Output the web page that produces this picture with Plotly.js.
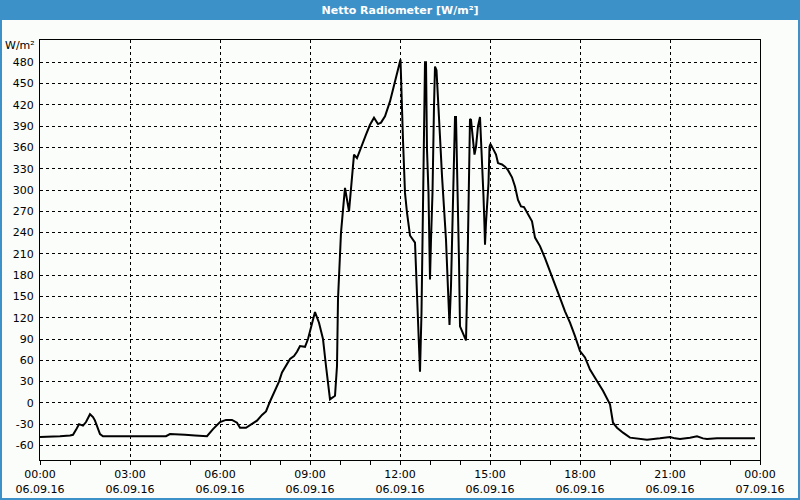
<!DOCTYPE html>
<html>
<head>
<meta charset="utf-8">
<script src="https://cdn.plot.ly/plotly-3.0.1.min.js"></script>
<style>
html,body{margin:0;padding:0;background:#fafdfa;}
#chart{width:800px;height:500px;}
</style>
</head>
<body>
<div id="chart"></div>
<script>
const day = "2016-09-06";
const times = ["00:00","00:20","00:40","01:00","01:06","01:12","01:18","01:26","01:32","01:40","01:46","01:50","01:56","02:00","02:06","02:20","02:40","03:00","03:14","03:30","03:40","04:00","04:12","04:20","04:30","04:50","05:10","05:34","05:46","06:00","06:12","06:24","06:34","06:40","06:52","07:02","07:14","07:24","07:32","07:40","07:50","07:58","08:04","08:12","08:20","08:28","08:34","08:40","08:50","08:56","09:04","09:10","09:18","09:26","09:32","09:40","09:50","09:54","09:56","10:02","10:06","10:10","10:18","10:28","10:34","10:44","10:52","11:00","11:08","11:16","11:22","11:30","11:40","11:50","12:01","12:06","12:10","12:14","12:20","12:30","12:32","12:34","12:36","12:38","12:40","12:43","12:45","12:47","12:49","12:50","12:52","12:54","12:57","12:59","13:00","13:02","13:05","13:08","13:10","13:13","13:16","13:20","13:24","13:28","13:32","13:36","13:39","13:42","13:45","13:48","13:50","13:52","13:54","13:56","13:58","14:00","14:06","14:12","14:14","14:16","14:18","14:20","14:22","14:25","14:29","14:32","14:36","14:40","14:42","14:45","14:47","14:49","14:50","14:52","14:55","14:57","14:59","15:01","15:07","15:12","15:16","15:24","15:30","15:36","15:44","15:50","15:56","16:02","16:08","16:16","16:24","16:30","16:40","16:50","17:00","17:10","17:20","17:30","17:40","17:50","18:00","18:10","18:20","18:34","18:46","19:00","19:06","19:14","19:20","19:26","19:40","20:00","20:14","20:40","21:00","21:10","21:20","21:40","21:54","22:06","22:14","22:34","23:00","23:30","23:50"];
const values = [-48,-48,-47,-46,-45,-38,-30,-32,-27,-16,-20,-25,-38,-44,-47,-47,-47,-47,-48,-48,-47,-48,-47,-44,-44,-45,-46,-47,-37,-27,-24,-24,-28,-35,-35,-30,-25,-17,-12,2,17,30,43,53,62,66,72,80,79,90,113,128,113,90,52,5,10,52,146,240,272,303,270,350,345,362,378,392,402,393,395,404,425,453,484,370,296,268,236,226,190,150,113,80,44,127,221,305,420,480,480,357,296,235,174,230,296,418,474,469,418,375,320,280,230,160,110,165,249,343,403,403,347,280,200,108,99,88,150,240,329,400,399,376,350,361,390,403,376,333,291,249,223,254,291,310,361,365,357,350,338,336,333,328,318,305,286,277,276,265,256,233,221,204,186,167,148,129,113,94,73,64,47,31,17,-2,-28,-35,-39,-42,-49,-51,-52,-50,-48,-50,-51,-49,-47,-50,-51,-50,-50,-50,-50];
const tickTimes = ["2016-09-06 00:00","2016-09-06 03:00","2016-09-06 06:00","2016-09-06 09:00","2016-09-06 12:00","2016-09-06 15:00","2016-09-06 18:00","2016-09-06 21:00","2016-09-07 00:00"];
const tickLabels = ["00:00<br>06.09.16","03:00<br>06.09.16","06:00<br>06.09.16","09:00<br>06.09.16","12:00<br>06.09.16","15:00<br>06.09.16","18:00<br>06.09.16","21:00<br>06.09.16","00:00<br>07.09.16"];
const yTicks = [-60,-30,0,30,60,90,120,150,180,210,240,270,300,330,360,390,420,450,480];
const titleText = "Netto Radiometer [W/m²]";
const unitText = "W/m²";

const x = times.map(t => day + " " + t);
const blue = "#3c91c8";
const font = {family: "DejaVu Sans, Verdana, sans-serif", size: 11, color: "#000"};

const trace = {
  x: x, y: values, type: "scatter", mode: "lines",
  line: {color: "#000", width: 2},
  hoverinfo: "skip", showlegend: false
};

// paper coordinates relative to plot area 40..760 x, 40..460 y
const px = p => (p - 40) / 720;
const py = p => (460 - p) / 420;

const layout = {
  width: 800, height: 500,
  margin: {l: 40, r: 40, t: 40, b: 40},
  paper_bgcolor: "#fafdfa", plot_bgcolor: "#fafdfa",
  font: font,
  title: {text: "<b>" + titleText + "</b>", font: {family: "DejaVu Sans, Verdana, sans-serif", size: 11, color: "#fff"},
          x: 0.5, xref: "container", y: 1 - 10/500, yref: "container", xanchor: "center", yanchor: "middle"},
  xaxis: {
    type: "date",
    range: ["2016-09-06 00:00", "2016-09-07 00:00"],
    tickmode: "array", tickvals: tickTimes, ticktext: tickLabels,
    ticks: "outside", ticklen: 4, tickcolor: "#000", tickwidth: 1,
    minor: {dtick: 3600000, ticks: "outside", ticklen: 4, tickcolor: "#000", showgrid: false},
    showgrid: true, gridcolor: "#000", griddash: "3px,3px", gridwidth: 1,
    showline: true, linecolor: "#000", linewidth: 1, mirror: true,
    zeroline: false, tickfont: font, fixedrange: true
  },
  yaxis: {
    range: [-80.5, 511.5],
    tickmode: "array", tickvals: yTicks, ticktext: yTicks.map(String),
    ticks: "", ticklabelstandoff: 3,
    showgrid: true, gridcolor: "#000", griddash: "3px,3px", gridwidth: 1,
    showline: true, linecolor: "#000", linewidth: 1, mirror: true,
    zeroline: false, tickfont: font, fixedrange: true
  },
  shapes: [
    {type: "rect", xref: "paper", yref: "paper", x0: px(0), x1: px(800), y0: py(20), y1: py(0),
     fillcolor: blue, line: {width: 0}, layer: "below"},
    {type: "rect", xref: "paper", yref: "paper", x0: px(0), x1: px(2), y0: py(500), y1: py(0),
     fillcolor: blue, line: {width: 0}},
    {type: "rect", xref: "paper", yref: "paper", x0: px(798), x1: px(800), y0: py(500), y1: py(0),
     fillcolor: blue, line: {width: 0}},
    {type: "rect", xref: "paper", yref: "paper", x0: px(0), x1: px(800), y0: py(500), y1: py(498),
     fillcolor: blue, line: {width: 0}}
  ],
  annotations: [
    {text: unitText, xref: "paper", yref: "paper", x: px(37), y: py(46), xanchor: "right", yanchor: "middle",
     showarrow: false, font: font}
  ]
};

Plotly.newPlot("chart", [trace], layout, {staticPlot: true, displayModeBar: false});
</script>
</body>
</html>
